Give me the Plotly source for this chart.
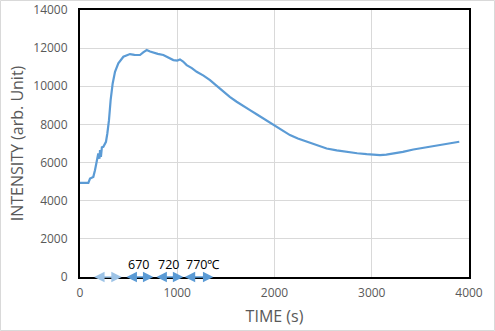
import plotly.graph_objects as go

# Intensity curve
time_s = [0, 40, 86, 103, 137, 154, 171, 188, 200, 206, 215, 225, 240, 267, 281, 298, 315, 336, 360,
          394, 446, 514, 560, 617, 650, 686, 720, 754, 800, 857, 910, 960, 1000, 1028, 1060, 1097, 1150,
          1200, 1270, 1337, 1400, 1474, 1540, 1611, 1680, 1748, 1820, 1885, 1950, 2005, 2080, 2159, 2240,
          2330, 2430, 2536, 2640, 2742, 2850, 2948, 3000, 3085, 3150, 3222, 3320, 3428, 3530, 3634,
          3700, 3770, 3840, 3900]
intensity = [4935, 4935, 4935, 5160, 5250, 5600, 6125, 6475, 6200, 6650, 6300, 6800, 6825, 7090, 7525,
             8225, 9275, 10150, 10760, 11200, 11550, 11690, 11650, 11640, 11780, 11900, 11820, 11760,
             11700, 11640, 11500, 11375, 11350, 11410, 11300, 11110, 10950, 10760, 10560, 10325, 10050,
             9710, 9450, 9190, 8950, 8750, 8520, 8310, 8130, 7960, 7700, 7440, 7260, 7090, 6900, 6740,
             6640, 6560, 6490, 6440, 6420, 6390, 6420, 6475, 6560, 6685, 6780, 6880, 6940, 7000, 7050, 7090]

# Temperature-step arrows on the time axis
arrow_start = [130, 463, 771, 1062]
arrow_end = [429, 754, 1062, 1371]
arrow_colors = ["#9DC3E6", "#5B9BD5", "#5B9BD5", "#5B9BD5"]
temp_labels = ["670", "720", "770℃"]
temp_label_t = [600, 905, 1268]

x_ticks = [0, 1000, 2000, 3000, 4000]
x_tick_text = ["0", "1000", "2000", "3000", "4000"]
y_ticks = [0, 2000, 4000, 6000, 8000, 10000, 12000, 14000]
y_tick_text = ["0", "2000", "4000", "6000", "8000", "10000", "12000", "14000"]

font_family = "'Open Sans', Lato, sans-serif"

fig = go.Figure()
fig.add_trace(go.Scatter(x=time_s, y=intensity, mode="lines",
                         line=dict(color="#5B9BD5", width=2.2), showlegend=False,
                         hoverinfo="skip"))

annotations = []
for s, e, c in zip(arrow_start, arrow_end, arrow_colors):
    annotations.append(dict(x=e, y=0, ax=s, ay=0, xref="x", yref="y", axref="x", ayref="y",
                            showarrow=True, arrowhead=2, startarrowhead=2, arrowside="end+start",
                            arrowcolor=c, arrowwidth=1.6, arrowsize=1.3, startarrowsize=1.3,
                            text=""))
for t, lab in zip(temp_label_t, temp_labels):
    annotations.append(dict(x=t, y=0, xref="x", yref="y", text=lab, showarrow=False,
                            yanchor="bottom", yshift=2,
                            font=dict(family=font_family, size=12.5, color="#000000")))

fig.update_layout(
    width=495, height=331,
    margin=dict(l=80, r=26, t=10, b=54, autoexpand=False),
    paper_bgcolor="white", plot_bgcolor="white",
    font=dict(family=font_family, color="#595959"),
    annotations=annotations,
    shapes=[dict(type="rect", xref="paper", yref="paper",
                 x0=-79.5 / 389, x1=(494.5 - 80) / 389, y0=(277 - 330.5) / 267, y1=(277 - 0.5) / 267,
                 line=dict(color="#D9D9D9", width=1), fillcolor="rgba(0,0,0,0)", layer="below")],
    xaxis=dict(range=[0, 4000], tickvals=x_ticks, ticktext=x_tick_text, showgrid=True,
               gridcolor="#D9D9D9", gridwidth=1, automargin=False,
               showline=True, linecolor="black", linewidth=2, mirror=True, zeroline=False,
               ticks="", tickfont=dict(size=12, color="#595959"), ticklabelstandoff=4,
               title=dict(text="TIME (s)", font=dict(size=16, color="#595959"), standoff=10)),
    yaxis=dict(range=[0, 14000], tickvals=y_ticks, ticktext=y_tick_text, showgrid=True,
               gridcolor="#D9D9D9", gridwidth=1, automargin=False,
               showline=True, linecolor="black", linewidth=2, mirror=True, zeroline=False,
               ticks="", tickfont=dict(size=12, color="#595959"), ticklabelstandoff=8,
               title=dict(text="INTENSITY (arb. Unit)", font=dict(size=16, color="#595959"), standoff=6)),
)

fig.write_html("out.html", config={"displayModeBar": False},
               post_script="document.body.style.margin='0';")
